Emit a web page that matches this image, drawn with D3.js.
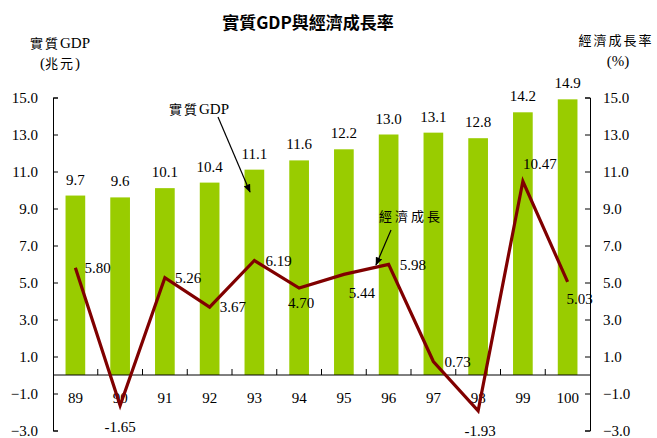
<!DOCTYPE html>
<html>
<head>
<meta charset="utf-8">
<script src="https://cdn.jsdelivr.net/npm/d3@7"></script>
<style>
  body { margin: 0; background: #fff; }
  text { font-family: "Liberation Serif", "Times New Roman", serif; }
  .cjk { font-family: "Noto Sans CJK TC", "Noto Sans CJK SC", sans-serif; }
</style>
</head>
<body>
<div id="chart"></div>
<script>
// data
const years = ['89', '90', '91', '92', '93', '94', '95', '96', '97', '98', '99', '100'];
const gdp = [9.7, 9.6, 10.1, 10.4, 11.1, 11.6, 12.2, 13.0, 13.1, 12.8, 14.2, 14.9];
const growth = [5.80, -1.65, 5.26, 3.67, 6.19, 4.70, 5.44, 5.98, 0.73, -1.93, 10.47, 5.03];
const yTicks = [15, 13, 11, 9, 7, 5, 3, 1, -1, -3];

// label placement for growth values: [dx, dy, anchor]
const growthLabelPos = [
  [9, 0, 'start'], [0, 21, 'middle'], [10, 0, 'start'], [10, 0, 'start'],
  [11, 0, 'start'], [2, 15, 'middle'], [18, 18, 'middle'], [11, 0, 'start'],
  [11, 0, 'start'], [2, 20, 'middle'], [0, -18, 'start'], [12, 17, 'middle']
];

const width = 657, height = 438;
const plotLeft = 53, plotRight = 590, plotTop = 97.5, plotBottom = 430.5;

const svg = d3.select('#chart').append('svg')
  .attr('width', width)
  .attr('height', height);

const x = d3.scaleBand().domain(years).range([plotLeft, plotRight]).paddingInner(0).paddingOuter(0);
const y = d3.scaleLinear().domain([-3, 15]).range([plotBottom, plotTop]);
const barW = x.bandwidth() * 0.44;
const cx = d => x(d) + x.bandwidth() / 2;

// title
svg.append('text')
  .attr('class', 'cjk')
  .attr('x', 308).attr('y', 29)
  .attr('text-anchor', 'middle')
  .attr('font-size', '17px')
  .attr('font-weight', 'bold')
  .text('實質GDP與經濟成長率');

// axis titles
svg.append('text').attr('x', 60).attr('y', 48).attr('text-anchor', 'middle')
  .attr('font-size', '15px')
  .call(t => { t.append('tspan').attr('class', 'cjk').attr('font-size', '13px').attr('letter-spacing', '2px').text('實質'); t.append('tspan').text('GDP'); });
svg.append('text').attr('x', 60).attr('y', 68).attr('text-anchor', 'middle')
  .attr('font-size', '15px')
  .call(t => { t.append('tspan').text('('); t.append('tspan').attr('class', 'cjk').attr('font-size', '13px').attr('letter-spacing', '2px').text('兆元'); t.append('tspan').text(')'); });
svg.append('text').attr('class', 'cjk').attr('x', 616).attr('y', 45).attr('text-anchor', 'middle')
  .attr('font-size', '13px').attr('letter-spacing', '2px').text('經濟成長率');
svg.append('text').attr('x', 618).attr('y', 66).attr('text-anchor', 'middle')
  .attr('font-size', '15px').text('(%)');

// bars
svg.append('g')
  .selectAll('rect')
  .data(years)
  .join('rect')
  .attr('x', d => cx(d) - barW / 2)
  .attr('width', barW)
  .attr('y', (d, i) => y(gdp[i]))
  .attr('height', (d, i) => y(0) - y(gdp[i]))
  .attr('fill', '#99cc00');

// bar value labels
svg.append('g')
  .selectAll('text')
  .data(years)
  .join('text')
  .attr('x', d => cx(d))
  .attr('y', (d, i) => y(gdp[i]) - 11)
  .attr('text-anchor', 'middle')
  .attr('font-size', '15px')
  .text((d, i) => gdp[i].toFixed(1));

// left axis
const yLeft = d3.axisLeft(y).tickValues(yTicks).tickSize(-5).tickPadding(15)
  .tickFormat(d3.format('.1f'));
svg.append('g')
  .attr('transform', `translate(${plotLeft},0)`)
  .call(yLeft)
  .call(g => g.selectAll('text').attr('font-size', '15px'))
  .call(g => g.attr('font-family', null).attr('font-size', null))
  .call(g => g.selectAll('line, path').attr('stroke', '#000'));

// right axis
const yRight = d3.axisRight(y).tickValues(yTicks).tickSize(-5).tickPadding(13)
  .tickFormat(d3.format('.1f'));
svg.append('g')
  .attr('transform', `translate(${plotRight},0)`)
  .call(yRight)
  .call(g => g.selectAll('text').attr('font-size', '15px'))
  .call(g => g.attr('font-family', null).attr('font-size', null))
  .call(g => g.selectAll('line, path').attr('stroke', '#000'));

// category axis at zero
svg.append('line')
  .attr('x1', plotLeft).attr('x2', plotRight)
  .attr('y1', y(0)).attr('y2', y(0))
  .attr('stroke', '#000');
svg.append('g')
  .selectAll('line')
  .data(years.slice(1))
  .join('line')
  .attr('x1', d => x(d)).attr('x2', d => x(d))
  .attr('y1', y(0)).attr('y2', y(0) - 6)
  .attr('stroke', '#000');
svg.append('g')
  .selectAll('text')
  .data(years)
  .join('text')
  .attr('x', d => cx(d))
  .attr('y', y(0) + 28)
  .attr('text-anchor', 'middle')
  .attr('font-size', '15px')
  .text(d => d);

// growth line
const line = d3.line()
  .x((d, i) => cx(years[i]))
  .y(d => y(d));
svg.append('path')
  .datum(growth)
  .attr('d', line)
  .attr('fill', 'none')
  .attr('stroke', '#800000')
  .attr('stroke-width', 3.2);

// growth labels
svg.append('g')
  .selectAll('text')
  .data(growth)
  .join('text')
  .attr('x', (d, i) => cx(years[i]) + growthLabelPos[i][0])
  .attr('y', (d, i) => y(d) + growthLabelPos[i][1])
  .attr('dy', '0.35em')
  .attr('text-anchor', (d, i) => growthLabelPos[i][2])
  .attr('font-size', '15px')
  .text(d => d.toFixed(2));

// annotations with arrows
const defs = svg.append('defs');
defs.append('marker')
  .attr('id', 'arrow')
  .attr('viewBox', '0 -5 10 10')
  .attr('refX', 9).attr('refY', 0)
  .attr('markerWidth', 7).attr('markerHeight', 7)
  .attr('orient', 'auto')
  .append('path')
  .attr('d', 'M0,-4L10,0L0,4Z')
  .attr('fill', '#000');

svg.append('text').attr('x', 199).attr('y', 114).attr('text-anchor', 'middle')
  .attr('font-size', '15px')
  .call(t => { t.append('tspan').attr('class', 'cjk').attr('font-size', '13px').attr('letter-spacing', '2px').text('實質'); t.append('tspan').text('GDP'); });
svg.append('line')
  .attr('x1', 218).attr('y1', 117).attr('x2', 250).attr('y2', 192)
  .attr('stroke', '#000').attr('stroke-width', 1.2)
  .attr('marker-end', 'url(#arrow)');

svg.append('text').attr('class', 'cjk').attr('x', 411).attr('y', 221).attr('text-anchor', 'middle')
  .attr('font-size', '13px').attr('letter-spacing', '3px').text('經濟成長');
svg.append('line')
  .attr('x1', 391).attr('y1', 230).attr('x2', 376).attr('y2', 265)
  .attr('stroke', '#000').attr('stroke-width', 1.2)
  .attr('marker-end', 'url(#arrow)');
</script>
</body>
</html>
